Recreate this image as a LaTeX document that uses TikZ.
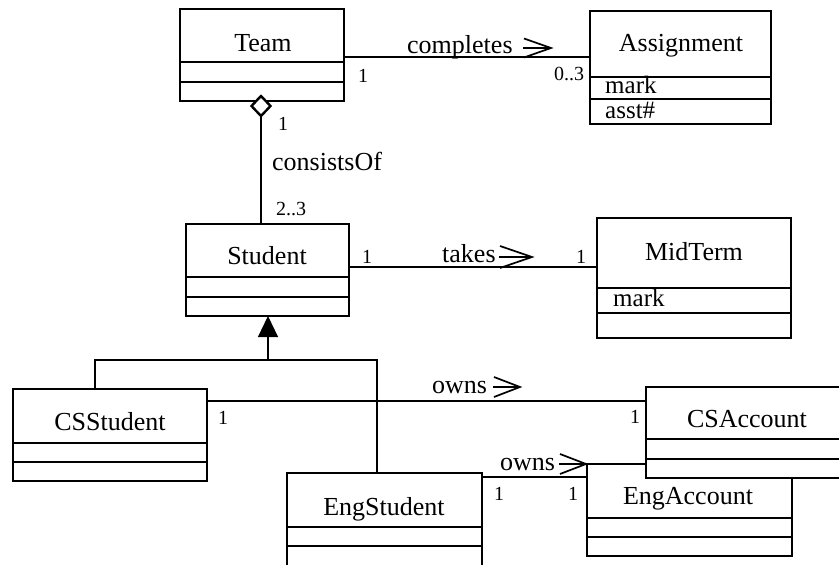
\documentclass[tikz,border=0pt]{standalone}
\usepackage{fontspec}
\setmainfont{Liberation Serif}
\usetikzlibrary{arrows.meta,shapes.geometric}
\tikzset{
  classbox/.style={draw, fill=white, line width=1.1pt, inner sep=0pt, outer sep=0pt},
  classline/.style={line width=1.1pt},
  conn/.style={line width=1.1pt},
  title/.style={anchor=base, inner sep=0pt, font=\fontsize{26}{30}\selectfont},
  attr/.style={anchor=base west, inner sep=0pt, font=\fontsize{25}{30}\selectfont},
  assoc/.style={anchor=base west, inner sep=0pt, font=\fontsize{26}{30}\selectfont},
  mult/.style={anchor=base, inner sep=0pt, font=\fontsize{20}{24}\selectfont},
  navline/.style={line width=1.7pt},
  aggdiamond/.style={diamond, draw, fill=white, line width=2.4pt, inner sep=0pt, outer sep=0pt, minimum width=19pt, minimum height=20pt}
}
\newcommand\umlclass[7]{%
  \node[classbox, minimum width={(#4-#2)*1pt}, minimum height={(#5-#3)*1pt}] (#1) at ({(#2+#4)/2},{(#3+#5)/2}) {};
  \draw[classline] (#2,#6) -- (#4,#6);
  \draw[classline] (#2,#7) -- (#4,#7);
}
\newcommand\navarrow[4]{% x, y, length, chevron half-height
  \draw[navline] (#1,#2) -- ++(#3,0);
  \draw[navline] ({#1+1},{#2-#4}) -- ({#1+#3},#2) -- ({#1+1},{#2+#4});
}
\begin{document}
\begin{tikzpicture}[x=1pt,y=-1pt]
\useasboundingbox (0,0) rectangle (839,565);

\coordinate (gx) at (268,360);
\coordinate (gl) at (95,360);
\coordinate (gr) at (377,360);

% ---- classes ----
\umlclass{team}{180}{9}{344}{101}{62}{82}
\node[title] (team-t) at (263,51) {Team};

\umlclass{asg}{590}{11}{771}{124}{77}{99}
\node[title] (asg-t) at (681,51) {Assignment};
\node[attr] (asg-a1) at (605,93) {mark};
\node[attr] (asg-a2) at (605,118) {asst\#};

\umlclass{stu}{186}{224}{349}{316}{277}{297}
\node[title] (stu-t) at (267,264) {Student};

\umlclass{mid}{597}{218}{791}{338}{288}{313}
\node[title] (mid-t) at (694,260) {MidTerm};
\node[attr] (mid-a1) at (613,306) {mark};

\umlclass{css}{13}{389}{207}{481}{443}{462}
\node[title] (css-t) at (110,430) {CSStudent};

\umlclass{eng}{287}{473}{482}{572}{527}{546}
\node[title] (eng-t) at (384,515) {EngStudent};

\umlclass{enga}{587}{464}{792}{556}{518}{537}
\node[title] (enga-t) at (688,504) {EngAccount};

% completes
\draw[conn] (team.east |- 0,57) -- (asg.west |- 0,57);
\node[assoc] (lbl-comp) at (407,53) {completes};
\navarrow{523}{48}{28}{9.5}
\node[mult] (m-team) at (363,82) {1};
\node[mult] (m-asg) at (569,80) {0..3};

% consistsOf (aggregation)
\node[aggdiamond] (dia) at (261,106) {};
\draw[conn] (dia.south) -- (stu.north -| dia.south);
\node[mult] (m-agg1) at (283,130) {1};
\node[assoc] (lbl-cons) at (272,170) {consistsOf};
\node[mult, anchor=base west] (m-agg2) at (276,215) {2..3};

% takes
\draw[conn] (stu.east |- 0,267) -- (mid.west |- 0,267);
\node[assoc] (lbl-takes) at (442,262) {takes};
\navarrow{499}{257}{33}{11}
\node[mult] (m-stu) at (367,263) {1};
\node[mult] (m-mid) at (581,263) {1};

% generalization
\draw[conn] (css.north -| gl) -- (gl) -- (gr) -- (eng.north -| gr);
\draw[conn, -{Triangle[length=21pt, width=20pt]}] (gx) -- (stu.south -| gx);

% owns (EngStudent -> EngAccount)
\coordinate (o2) at (0,477);
\draw[conn] (eng.east |- o2) -- (enga.west |- o2);
\node[assoc] (lbl-owns2) at (500,470) {owns};
\navarrow{559}{464}{27}{10}
\node[mult] (m-eng) at (499,500) {1};
\node[mult] (m-enga) at (573,500) {1};

% CSAccount on top of EngAccount
\umlclass{csa}{646}{387}{846}{478}{439}{459}
\node[title] (csa-t) at (747,427) {CSAccount};

% owns (CSStudent -> CSAccount)
\coordinate (o1) at (0,401);
\draw[conn] (css.east |- o1) -- (csa.west |- o1);
\node[assoc] (lbl-owns1) at (432,393) {owns};
\navarrow{493}{387}{27}{10}
\node[mult] (m-css) at (223,424) {1};
\node[mult] (m-csa) at (635,423) {1};
\end{tikzpicture}
\end{document}
